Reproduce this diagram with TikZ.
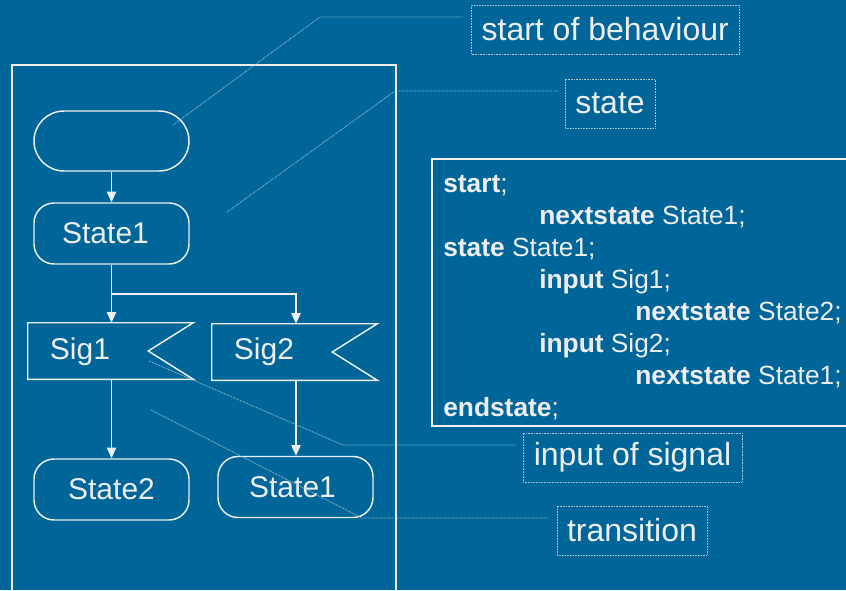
\documentclass[tikz,border=0pt]{standalone}
\usepackage{fontspec}
\setmainfont{Liberation Sans}
\usetikzlibrary{arrows.meta,calc}
\definecolor{bgblue}{HTML}{006699}
\definecolor{ink}{HTML}{EEEEEE}
\begin{document}
\begin{tikzpicture}[x=0.75pt,y=-0.75pt,
  flow/.style={draw=ink, line width=1.1pt, text=ink, font=\fontsize{22.5}{27}\selectfont, inner sep=0pt},
  statebox/.style={flow, rounded corners=15pt, minimum width=116.25pt, minimum height=45.75pt},
  startbox/.style={flow, rounded corners=22.5pt, minimum width=116.25pt, minimum height=45pt},
  sigbox/.style={inner sep=0pt, minimum width=123.75pt, minimum height=42pt},
  sigtext/.style={text=ink, font=\fontsize{22.5}{27}\selectfont, inner sep=0pt},
  arr/.style={draw=ink, line width=1.1pt, -{Triangle[length=8pt,width=7pt]}},
  wire/.style={draw=ink, line width=1.1pt},
  callout/.style={draw=ink!70!bgblue, line width=0.6pt, dash pattern=on 0.6pt off 0.6pt,
    text=ink, font=\fontsize{24}{28}\selectfont, inner sep=0pt, minimum height=36.75pt},
  leader/.style={draw=ink!65!bgblue, line width=0.6pt, dash pattern=on 0.6pt off 0.6pt},
  codeline/.style={text=ink, font=\fontsize{19.75}{24}\selectfont, anchor=base west, inner sep=0pt}]

% background and page size
\fill[bgblue] (0,0) rectangle (846,590);
\useasboundingbox (0,0) rectangle (846,590);
\clip (0,0) rectangle (846,590);

% frame around the process diagram
\draw[ink, line width=1.5pt] (12,65) rectangle (396,620);

% flowchart nodes
\node[startbox] (start) at (111.5,141) {};
\node[statebox] (st1) at (111.5,233.5) {\hspace*{-9pt}State1};
\node[sigbox] (sig1) at (110.5,351) {};
\node[sigbox] (sig2) at (294.5,352) {};
\node[statebox] (st2) at (111.5,489.5) {State2};
\node[statebox] (st1b) at (295.5,487) {\hspace*{-4.5pt}\raisebox{-2.25pt}{State1}};

% input symbols with a notched right side
\draw[wire] (sig1.north east) -- (sig1.north west) -- (sig1.south west) -- (sig1.south east)
  -- ($(sig1.east)+(-45,0)$) -- cycle;
\draw[wire] (sig2.north east) -- (sig2.north west) -- (sig2.south west) -- (sig2.south east)
  -- ($(sig2.east)+(-45,0)$) -- cycle;
\node[sigtext] (sig1txt) at (80,352) {Sig1};
\node[sigtext] (sig2txt) at (264,352) {Sig2};

% transitions
\coordinate (split) at (111.5,294);
\draw[arr] (start.south) -- (st1.north);
\draw[arr] (st1.south) -- (st1.south |- sig1.north);
\draw[arr] (split) -| (296,0 |- sig2.north);
\draw[arr] (sig1.south -| st2.north) -- (st2.north);
\draw[arr] (296,0 |- sig2.south) -- (296,0 |- st1b.north);

% textual form
\draw[ink, line width=1.1pt] (432,159) rectangle (870,426);
\node[codeline] (c1) at (443,192) {\textbf{start};};
\node[codeline] (c2) at (539,224) {\textbf{nextstate} State1;};
\node[codeline] (c3) at (443,256) {\textbf{state} State1;};
\node[codeline] (c4) at (539,288) {\textbf{input} Sig1;};
\node[codeline] (c5) at (635,320) {\textbf{nextstate} State2;};
\node[codeline] (c6) at (539,352) {\textbf{input} Sig2;};
\node[codeline] (c7) at (635,384) {\textbf{nextstate} State1;};
\node[codeline] (c8) at (443,416) {\textbf{endstate};};

% callouts
\node[callout, minimum width=200.6pt] (lab1) at (605.25,29.5) {start of behaviour};
\node[callout, minimum width=67.5pt] (lab2) at (610,103.5) {state};
\node[callout, minimum width=164.25pt] (lab3) at (632.5,457.5) {input of signal};
\node[callout, minimum width=112.5pt] (lab4) at (632,530.5) {transition};

\coordinate (p1) at (173,125);
\coordinate (p2) at (227,212);
\coordinate (p3) at (149,361);
\coordinate (p4) at (151,410);
\draw[leader] (p1) -- (320,17) -- (463,17);
\draw[leader] (p2) -- (395,91) -- (559,91);
\draw[leader] (p3) -- (343,445) -- (515,445);
\draw[leader] (p4) -- (362,518) -- (548,518);
\end{tikzpicture}
\end{document}
